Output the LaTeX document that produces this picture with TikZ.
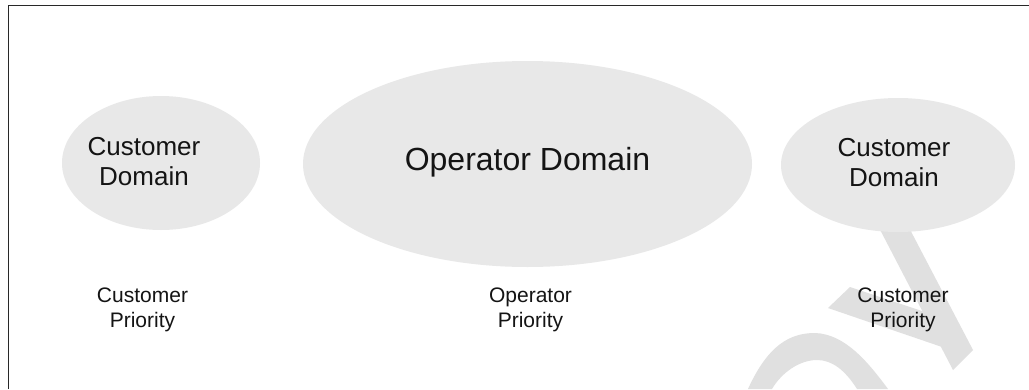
\documentclass[tikz,border=0pt]{standalone}
\usepackage{fontspec}
\setmainfont{Liberation Sans}
\usetikzlibrary{shapes.geometric}
\definecolor{ellfill}{RGB}{232,232,232}
\definecolor{wmark}{RGB}{224,224,224}
\definecolor{ink}{RGB}{20,20,20}
\definecolor{framecol}{RGB}{40,40,40}
\tikzset{
  domainblob/.style={ellipse, fill=ellfill, draw=none, inner sep=0pt},
  bigtext/.style={text=ink, align=center, inner sep=0pt, font=\fontsize{26}{30}\selectfont},
  hugetext/.style={text=ink, align=center, inner sep=0pt, font=\fontsize{32}{38}\selectfont},
  smalltext/.style={text=ink, align=center, inner sep=0pt, font=\fontsize{21}{25}\selectfont},
  wm/.style={fill=wmark, draw=none}
}
\begin{document}
\begin{tikzpicture}[x=1pt,y=-1pt]
\useasboundingbox (0,0) rectangle (1029,389);
\fill[white] (0,0) rectangle (1029,389);

% faint background lettering in the lower right corner
\fill[wm] (953,370) -- (973,350) -- (905,220) -- (875,220) -- cycle;
\fill[wm] (828,308) -- (850,287) -- (925,312) -- (945,348) -- cycle;
\fill[wm] (748,389) .. controls (768,345) and (790,333) .. (815,333)
          .. controls (845,334) and (868,362) .. (888,389)
          -- (857,389) .. controls (845,370) and (832,360) .. (817,360)
          .. controls (800,360) and (782,372) .. (772,389) -- cycle;

% frame
\draw[framecol, line width=1.5pt] (8.5,389) -- (8.5,5.3) -- (1029,5.3);

% domains
\node[domainblob, minimum width=198pt, minimum height=134pt] (custL) at (161,163) {};
\node[domainblob, minimum width=449pt, minimum height=206pt] (oper) at (527.5,164) {};
\node[domainblob, minimum width=234pt, minimum height=134pt] (custR) at (898,165) {};

\node[bigtext] (custLtext) at (144,162) {Customer\\Domain};
\node[hugetext] (opertext) at (527.5,162) {Operator Domain};
\node[bigtext] (custRtext) at (894,162.5) {Customer\\Domain};

% priorities
\node[smalltext] (prioL) at (142.5,309.5) {Customer\\Priority};
\node[smalltext] (prioO) at (530.5,310) {Operator\\Priority};
\node[smalltext] (prioR) at (903,310) {Customer\\Priority};
\end{tikzpicture}
\end{document}
